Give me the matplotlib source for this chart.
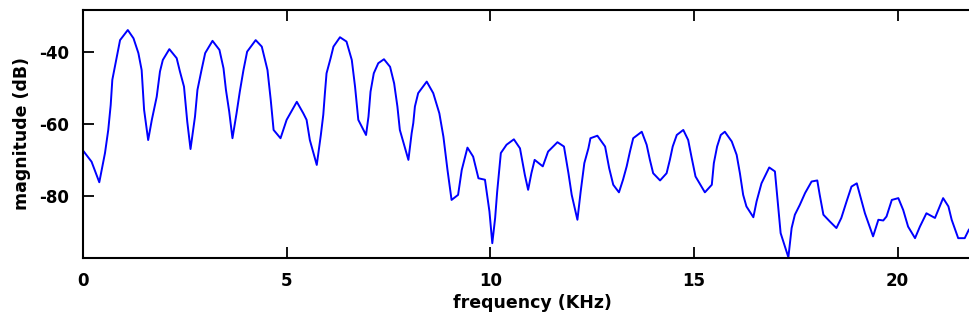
import numpy as np
import matplotlib
matplotlib.use('Agg')
import matplotlib.pyplot as plt

plt.rcParams['axes.unicode_minus'] = False   # plain hyphen like the original

# spectrum (kHz, dB)
freq_khz = [0.02, 0.21, 0.40, 0.54, 0.62, 0.68, 0.72, 0.83, 0.91, 1.10, 1.24, 1.36, 1.44, 1.50,
            1.60, 1.69, 1.81, 1.89, 1.96, 2.12, 2.30, 2.38, 2.48, 2.56, 2.64, 2.75, 2.81, 2.91,
            3.00, 3.18, 3.35, 3.45, 3.51, 3.59, 3.67, 3.77, 3.85, 3.94, 4.03, 4.24, 4.39, 4.53,
            4.61, 4.68, 4.85, 5.00, 5.25, 5.41, 5.49, 5.57, 5.74, 5.84, 5.90, 5.94, 5.98, 6.08,
            6.15, 6.31, 6.47, 6.60, 6.68, 6.76, 6.95, 7.01, 7.06, 7.14, 7.25, 7.39, 7.54, 7.64,
            7.72, 7.78, 7.99, 8.07, 8.11, 8.15, 8.23, 8.44, 8.60, 8.75, 8.85, 8.95, 9.05, 9.21,
            9.30, 9.44, 9.58, 9.71, 9.87, 9.98, 10.05, 10.12, 10.17, 10.26, 10.40, 10.58, 10.73,
            10.85, 10.93, 11.01, 11.09, 11.29, 11.42, 11.65, 11.81, 11.92, 12.00, 12.14, 12.22,
            12.31, 12.41, 12.46, 12.63, 12.82, 12.92, 13.02, 13.16, 13.26, 13.35, 13.43, 13.51,
            13.72, 13.84, 13.92, 14.00, 14.17, 14.33, 14.41, 14.48, 14.58, 14.74, 14.86, 14.94,
            15.04, 15.27, 15.44, 15.49, 15.57, 15.66, 15.76, 15.93, 16.05, 16.13, 16.21, 16.29,
            16.46, 16.54, 16.66, 16.85, 16.99, 17.05, 17.13, 17.32, 17.40, 17.48, 17.60, 17.73,
            17.89, 18.03, 18.09, 18.18, 18.34, 18.50, 18.62, 18.75, 18.87, 19.00, 19.20, 19.40,
            19.53, 19.65, 19.73, 19.86, 20.02, 20.14, 20.26, 20.43, 20.55, 20.71, 20.92, 21.12,
            21.25, 21.33, 21.49, 21.65, 21.75, 21.90]
mag_db = [-67.7, -70.5, -76.2, -68.1, -61.7, -54.8, -47.8, -41.4, -36.8, -34.0, -36.3, -40.4, -45.1, -56.1,
          -64.5, -58.9, -52.5, -45.5, -42.3, -39.3, -41.8, -45.5, -49.7, -59.4, -67.0, -58.0, -50.6, -45.1,
          -40.4, -37.0, -39.5, -44.6, -50.6, -56.6, -64.0, -57.1, -51.1, -45.1, -40.0, -36.8, -38.6, -45.1,
          -53.4, -61.7, -64.0, -58.9, -53.9, -57.1, -58.9, -64.5, -71.4, -63.1, -57.5, -51.5, -46.0, -41.8,
          -38.6, -36.0, -37.2, -42.3, -49.7, -58.9, -63.1, -58.0, -51.1, -46.0, -43.2, -42.1, -44.2, -48.8,
          -55.2, -61.7, -70.0, -62.6, -59.8, -55.2, -51.5, -48.3, -51.5, -57.1, -63.6, -72.8, -81.1, -79.7,
          -72.8, -66.6, -69.1, -75.1, -75.5, -84.3, -93.1, -86.1, -78.8, -68.1, -65.8, -64.3, -66.8,
          -74.2, -78.3, -73.7, -70.0, -71.8, -67.7, -65.1, -66.3, -73.7, -79.7, -86.6, -78.8,
          -70.9, -66.8, -64.0, -63.3, -66.3, -72.3, -76.9, -79.0, -75.5, -71.8, -67.7, -64.0,
          -62.2, -65.8, -70.0, -73.7, -75.7, -73.7, -70.0, -66.3, -63.1, -61.7, -64.5, -69.1,
          -74.6, -79.0, -76.9, -70.9, -66.3, -63.1, -62.2, -64.9, -68.6, -73.7, -79.7, -82.9,
          -85.9, -81.5, -76.5, -72.1, -73.2, -80.6, -90.3, -97.0, -88.9, -85.2, -82.5, -79.2,
          -76.0, -75.7, -79.7, -85.2, -87.1, -88.9, -86.1, -81.5, -77.4, -76.5, -84.8, -91.2,
          -86.6, -86.8, -85.7, -81.1, -80.6, -83.9, -88.5, -91.7, -88.5, -84.8, -86.1, -80.6,
          -82.9, -86.6, -91.7, -91.7, -89.4, -87.5]

x_ticks = [0, 5, 10, 15, 20]
y_ticks = [-80, -60, -40]

fig = plt.figure(figsize=(9.69, 3.23), dpi=100)
# axes runs past the right edge, like the cropped original
ax = fig.add_axes([83/969, 65/323, 898/969, 248/323])
ax.plot(freq_khz, mag_db, color='#0000ff', lw=1.4)

ax.set_xlim(0, 22.05)
ax.set_ylim(-97.2, -28.45)
ax.set_xticks(x_ticks)
ax.set_yticks(y_ticks)
ax.tick_params(direction='in', length=8, width=1.3, top=True, right=True,
               labelsize=12, pad=10)
for lab in ax.get_xticklabels() + ax.get_yticklabels():
    lab.set_fontweight('bold')
for s in ax.spines.values():
    s.set_linewidth(1.5)

ax.set_xlabel('frequency (KHz)', fontsize=12.5, fontweight='bold', labelpad=3)
ax.set_ylabel('magnitude (dB)', fontsize=12.5, fontweight='bold', labelpad=6)

fig.savefig('out.png', dpi=100)
